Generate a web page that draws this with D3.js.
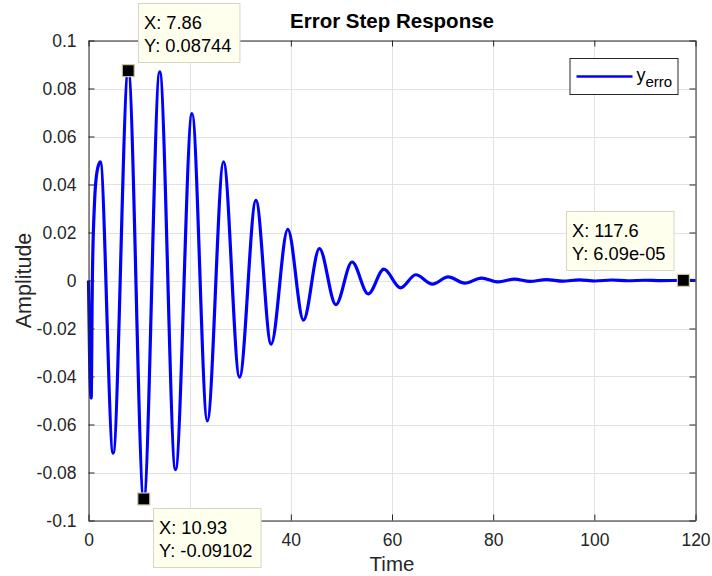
<!DOCTYPE html>
<html><head><meta charset="utf-8">
<script src="https://cdn.jsdelivr.net/npm/d3@7"></script>
<style>body{margin:0;background:#fff} svg{display:block;font-family:"Liberation Sans",Arial,Helvetica,sans-serif}</style>
</head><body><svg id="c" width="712" height="576"></svg>
<script>
// ---- data ----
const time  = [0, 0.2, 0.53, 0.76, 1.18, 1.72, 2.33, 4.87, 7.86, 10.93, 14.08, 17.2, 20.47, 23.49, 26.7, 29.86, 33.1, 36.1, 39.4, 42.5, 45.65, 48.9, 52.1, 55.3, 58.4, 61.7, 64.7, 68.0, 71.1, 74.4, 77.7, 81.0, 84.2, 87.3, 90.5, 93.8, 97.0, 100.2, 103.4, 106.6, 110.0, 113.2, 117.6, 120];
const yerro = [0, -0.03, -0.049, 0, 0.032, 0.0458, 0.0494, -0.0719, 0.08744, -0.09102, 0.0869, -0.0788, 0.0695, -0.0585, 0.0494, -0.0403, 0.0334, -0.0265, 0.0213, -0.0165, 0.0133, -0.0101, 0.0077, -0.0056, 0.0047, -0.0031, 0.0024, -0.0015, 0.0015, -0.0011, 0.001, -0.0006, 0.0006, -0.0004, 0.0004, -0.0003, 0.0003, -0.0002, 0.0002, -0.0001, 0.0001, -0.00005, 0.0000609, 0];
const xTicks = [0, 20, 40, 60, 80, 100, 120];
const yTicks = [-0.1, -0.08, -0.06, -0.04, -0.02, 0, 0.02, 0.04, 0.06, 0.08, 0.1];
const yTickLabels = ["-0.1", "-0.08", "-0.06", "-0.04", "-0.02", "0", "0.02", "0.04", "0.06", "0.08", "0.1"];
const tipX = [7.86, 10.93, 117.6];
const tipY = [0.08744, -0.09102, 0.0000609];
const tipXLabels = ["X: 7.86", "X: 10.93", "X: 117.6"];
const tipYLabels = ["Y: 0.08744", "Y: -0.09102", "Y: 6.09e-05"];
const tipPlace = ["ne", "se", "nw"];
const titleText = "Error Step Response";
const xLabel = "Time", yLabel = "Amplitude";
const legendMain = "y", legendSub = "erro";

// ---- layout ----
const svg = d3.select("#c");
const L = 88.5, R = 695.5, T = 40.5, B = 520.5;
const x = d3.scaleLinear().domain([0, 120]).range([L, R]);
const y = d3.scaleLinear().domain([-0.1, 0.1]).range([B, T]);
const axisColor = "#262626";

svg.append("rect").attr("x", L).attr("y", T).attr("width", R - L).attr("height", B - T).attr("fill", "#fff");

// grid
const grid = svg.append("g").attr("stroke", "#e2e2e2").attr("stroke-width", 1);
grid.selectAll(".gx").data(xTicks).join("line")
  .attr("x1", d => Math.round(x(d)) + 0.5).attr("x2", d => Math.round(x(d)) + 0.5).attr("y1", T).attr("y2", B);
grid.selectAll(".gy").data(yTicks).join("line")
  .attr("y1", d => Math.round(y(d)) + 0.5).attr("y2", d => Math.round(y(d)) + 0.5).attr("x1", L).attr("x2", R);

// data line
const pts = time.map((t, i) => ({t, v: yerro[i]}));
const line = d3.line().x(d => x(d.t)).y(d => y(d.v)).curve(d3.curveMonotoneX);
svg.append("path").datum(pts).attr("d", line)
  .attr("fill", "none").attr("stroke", "#0000ff").attr("stroke-width", 3.2).attr("stroke-linejoin", "round");

// axes
function styleAxis(g) {
  g.selectAll("path.domain").attr("stroke", axisColor);
  g.selectAll(".tick line").attr("stroke", axisColor);
  g.selectAll(".tick text").attr("fill", axisColor).style("font-size", "17.5px").style("font-family", '"Liberation Sans",Arial,sans-serif');
}
svg.append("g").attr("transform", `translate(0,${B})`)
  .call(d3.axisBottom(x).tickValues(xTicks).tickFormat(d3.format("d")).tickSizeInner(-6).tickSizeOuter(0).tickPadding(13))
  .call(styleAxis);
svg.append("g").attr("transform", `translate(0,${T})`)
  .call(d3.axisTop(x).tickValues(xTicks).tickFormat("").tickSizeInner(-6).tickSizeOuter(0))
  .call(styleAxis);
svg.append("g").attr("transform", `translate(${L},0)`)
  .call(d3.axisLeft(y).tickValues(yTicks).tickFormat((d, i) => yTickLabels[i]).tickSizeInner(-6).tickSizeOuter(0).tickPadding(12))
  .call(styleAxis);
svg.append("g").attr("transform", `translate(${R},0)`)
  .call(d3.axisRight(y).tickValues(yTicks).tickFormat("").tickSizeInner(-6).tickSizeOuter(0))
  .call(styleAxis);

// title & labels
svg.append("text").attr("x", (L + R) / 2).attr("y", 28).attr("text-anchor", "middle")
  .style("font-size", "20.5px").style("font-weight", "bold").attr("fill", "#000").text(titleText);
svg.append("text").attr("x", (L + R) / 2).attr("y", 571).attr("text-anchor", "middle")
  .style("font-size", "20.5px").attr("fill", axisColor).text(xLabel);
svg.append("text").attr("transform", `translate(31,${(T + B) / 2}) rotate(-90)`).attr("text-anchor", "middle")
  .style("font-size", "21.5px").attr("fill", axisColor).text(yLabel);

// legend
const lg = svg.append("g");
const lgR = R - 18, lgT = T + 18, lgW = 108, lgH = 36;
lg.append("rect").attr("x", lgR - lgW + 0.5).attr("y", lgT).attr("width", lgW).attr("height", lgH)
  .attr("fill", "#fff").attr("stroke", axisColor).attr("stroke-width", 1);
lg.append("line").attr("x1", lgR - lgW + 7).attr("x2", lgR - lgW + 63).attr("y1", lgT + 18).attr("y2", lgT + 18)
  .attr("stroke", "#0000ff").attr("stroke-width", 2.6);
const lt = lg.append("text").attr("x", lgR - lgW + 67).attr("y", lgT + 22).attr("fill", "#000").style("font-size", "18px");
lt.append("tspan").text(legendMain);
lt.append("tspan").attr("dy", 6).style("font-size", "15px").text(legendSub);

// data tips
const tipG = svg.append("g");
tipX.forEach((tx, i) => {
  const mx = x(tx), my = y(tipY[i]);
  const g = tipG.append("g");
  const box = g.append("rect").attr("fill", "#ffffee").attr("stroke", "#d6d6c2").attr("stroke-width", 1);
  const t1 = g.append("text").style("font-size", "18.3px").attr("fill", "#000").text(tipXLabels[i]);
  const t2 = g.append("text").style("font-size", "18.3px").attr("fill", "#000").text(tipYLabels[i]);
  const w = Math.max(t1.node().getComputedTextLength(), t2.node().getComputedTextLength()) + 14;
  const h = 59;
  let bx, by;
  if (tipPlace[i] === "ne") { bx = mx + 10; by = my - 9 - h; }
  else if (tipPlace[i] === "se") { bx = mx + 9; by = my + 9; }
  else { bx = mx - 9.5 - w; by = my - 10 - h; }
  bx = Math.round(bx) + 0.5; by = Math.round(by) + 0.5;
  box.attr("x", bx).attr("y", by).attr("width", w).attr("height", h);
  t1.attr("x", bx + 5.5).attr("y", by + 25);
  t2.attr("x", bx + 5.5).attr("y", by + 48);
  g.append("rect").attr("x", mx - 6).attr("y", my - 6).attr("width", 12).attr("height", 12)
    .attr("fill", "#000").attr("stroke", "#cfcaa6").attr("stroke-width", 1.2);
});
</script>
</body></html>
